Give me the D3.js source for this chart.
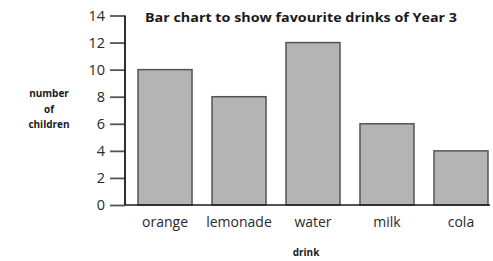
<!DOCTYPE html>
<html><head><meta charset="utf-8">
<script src="https://cdn.jsdelivr.net/npm/d3@7"></script>
<style>body{margin:0;background:#fff}svg{display:block}</style>
</head><body>
<svg id="c" width="493" height="261"></svg>
<script>
const categories = ["orange","lemonade","water","milk","cola"];
const values = [10, 8, 12, 6, 4];
const yTicks = [0, 2, 4, 6, 8, 10, 12, 14];
const title = "Bar chart to show favourite drinks of Year 3";
const yLabel = ["number","of","children"];
const xLabel = "drink";

const svg = d3.select("#c");
const font = "'Open Sans', sans-serif";
const axX = 125, y0 = 205, yTop = 15.5;

const y = d3.scaleLinear().domain([0, 14]).range([y0, yTop]);
const x = d3.scaleBand().domain(categories).range([axX, 501]).paddingInner(0.27).paddingOuter(0.176);

// bars
svg.selectAll("rect.bar").data(values).join("rect")
  .attr("x", (d,i) => x(categories[i]))
  .attr("y", d => y(d))
  .attr("width", x.bandwidth())
  .attr("height", d => y0 - y(d))
  .attr("fill", "#b4b4b4").attr("stroke", "#555").attr("stroke-width", 1.5);

// y axis
const yAxis = d3.axisLeft(y).tickValues(yTicks).tickSize(15).tickPadding(5).tickFormat(d3.format("d"));
const gy = svg.append("g").attr("transform", `translate(${axX},0)`).call(yAxis);
gy.select(".domain").remove();
gy.selectAll(".tick line").attr("stroke", "#555").attr("stroke-width", 1.8);
gy.selectAll(".tick text").attr("font-family", font).attr("font-size", 14.5).attr("fill", "#2a2a2a");
svg.append("line").attr("x1", axX).attr("x2", axX).attr("y1", yTop).attr("y2", y0)
  .attr("stroke", "#1a1a1a").attr("stroke-width", 1.8);
// baseline
svg.append("line").attr("x1", axX).attr("x2", 490).attr("y1", y0).attr("y2", y0)
  .attr("stroke", "#1a1a1a").attr("stroke-width", 1.6);

// x labels
svg.selectAll("text.xl").data(categories).join("text")
  .attr("x", d => x(d) + x.bandwidth()/2).attr("y", 227)
  .attr("text-anchor", "middle").attr("font-family", font).attr("font-size", 14).attr("fill", "#2a2a2a")
  .text(d => d);

// title
svg.append("text").attr("x", 145).attr("y", 22).attr("font-family", font)
  .attr("font-weight", "bold").attr("font-size", 12).attr("fill", "#1a1a1a")
  .attr("textLength", 312).attr("lengthAdjust", "spacingAndGlyphs").text(title);

// y label
svg.selectAll("text.yl").data(yLabel).join("text")
  .attr("x", 49).attr("y", (d,i) => 97 + i*15.5)
  .attr("text-anchor", "middle").attr("font-family", font).attr("font-weight", "bold")
  .attr("font-size", 10).attr("fill", "#1a1a1a").text(d => d);

// x label
svg.append("text").attr("x", 306).attr("y", 256).attr("text-anchor", "middle")
  .attr("font-family", font).attr("font-weight", "bold").attr("font-size", 10).attr("fill", "#1a1a1a").text(xLabel);
</script>
</body></html>
